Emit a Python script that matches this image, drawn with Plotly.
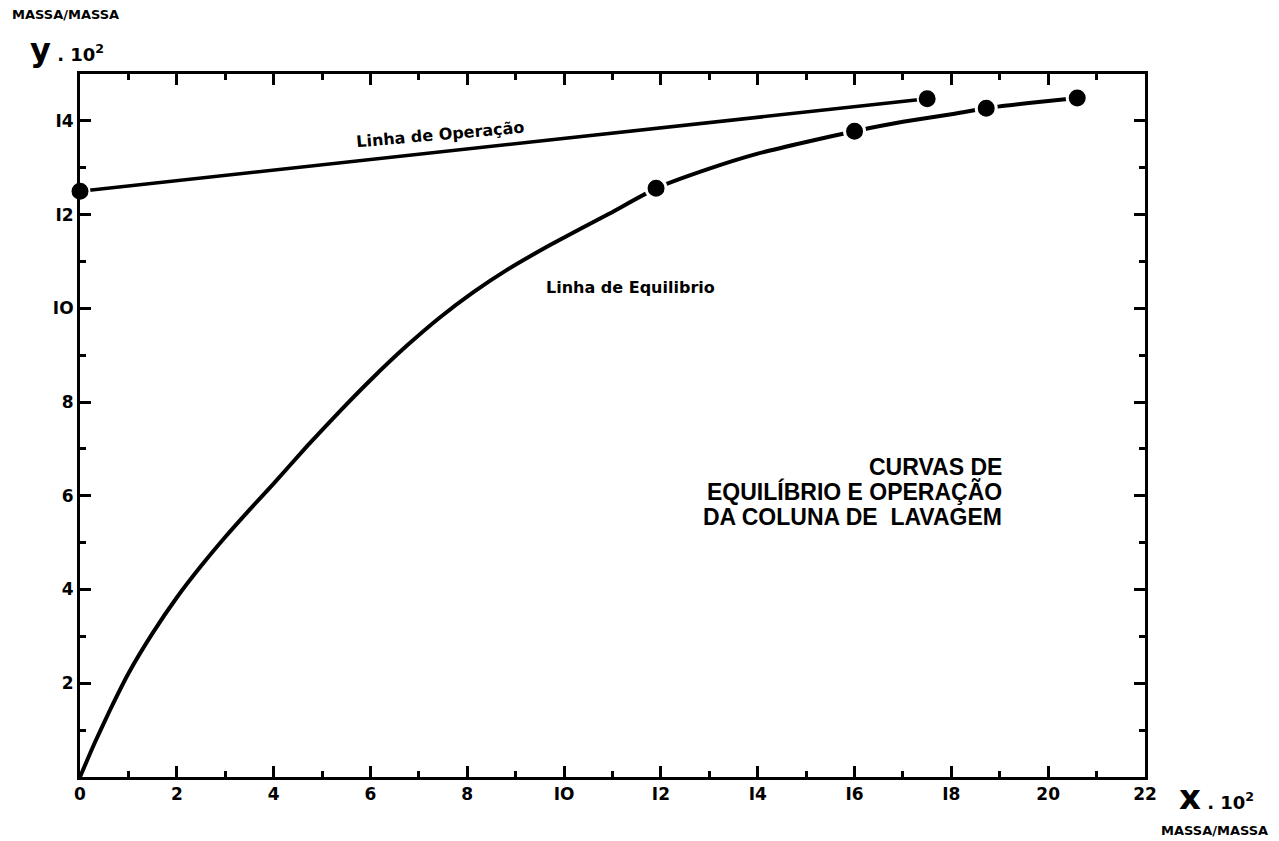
import plotly.graph_objects as go

# Equilibrium curve (x·10², y·10²)
eq_x = [0, 0.3, 0.62, 1.0, 1.5, 2.0, 2.5, 3.0, 3.5, 4.0, 4.7, 5.4, 6.05, 6.76, 7.44, 8.12,
        8.82, 9.71, 10.95, 11.9, 13.0, 14.0, 15.0, 16.0, 17.0, 18.0, 18.72, 19.6, 20.6]
eq_y = [0, 0.72, 1.43, 2.21, 3.07, 3.83, 4.5, 5.12, 5.7, 6.26, 7.07, 7.84, 8.52, 9.21, 9.81, 10.34,
        10.82, 11.35, 12.03, 12.56, 12.98, 13.3, 13.55, 13.78, 13.98, 14.14, 14.27, 14.38, 14.49]
# Marked points on the equilibrium curve
eq_pts_x = [11.9, 16.0, 18.72, 20.6]
eq_pts_y = [12.56, 13.78, 14.27, 14.49]
# Operating line
op_x = [0, 17.5]
op_y = [12.5, 14.47]

x_ticks = [0, 2, 4, 6, 8, 10, 12, 14, 16, 18, 20, 22]
x_ticktext = ["0", "2", "4", "6", "8", "IO", "I2", "I4", "I6", "I8", "20", "22"]
y_ticks = [2, 4, 6, 8, 10, 12, 14]
y_ticktext = ["2", "4", "6", "8", "IO", "I2", "I4"]

BLACK = "#000000"
FONT = "DejaVu Sans"

fig = go.Figure()
fig.add_trace(go.Scatter(x=eq_x, y=eq_y, mode="lines",
                         line=dict(color=BLACK, width=4, shape="spline", smoothing=0.5),
                         hoverinfo="skip", showlegend=False))
fig.add_trace(go.Scatter(x=op_x, y=op_y, mode="lines",
                         line=dict(color=BLACK, width=3.5),
                         hoverinfo="skip", showlegend=False))
fig.add_trace(go.Scatter(x=eq_pts_x, y=eq_pts_y, mode="markers",
                         marker=dict(color=BLACK, size=20, line=dict(color="white", width=3)),
                         cliponaxis=False, showlegend=False))
fig.add_trace(go.Scatter(x=op_x, y=op_y, mode="markers",
                         marker=dict(color=BLACK, size=19, line=dict(color="white", width=2)),
                         cliponaxis=False, showlegend=False))

axis_common = dict(
    showgrid=False, zeroline=False, showline=True, linecolor=BLACK, linewidth=3,
    mirror="ticks", ticks="inside", ticklen=11, tickwidth=2.5, tickcolor=BLACK,
    tickfont=dict(family=FONT, size=17, color=BLACK, weight="bold"),
)
fig.update_xaxes(range=[0, 22], tickvals=x_ticks, ticktext=x_ticktext,
                 minor=dict(ticks="inside", dtick=1, ticklen=6, tickwidth=2.5, tickcolor=BLACK),
                 **axis_common)
fig.update_yaxes(range=[0, 15], tickvals=y_ticks, ticktext=y_ticktext,
                 minor=dict(ticks="inside", dtick=1, ticklen=6, tickwidth=2.5, tickcolor=BLACK),
                 **axis_common)

fig.update_layout(
    width=1279, height=841,
    margin=dict(l=80, r=134, t=74, b=64),
    paper_bgcolor="white", plot_bgcolor="white",
    font=dict(family=FONT, color=BLACK),
)

def pix(px, py):
    # convert page pixels to paper coordinates
    return (px - 80) / (1145 - 80), (777 - py) / (777 - 74)

annotations = []
def add_text(text, px, py, size, xanchor="center", angle=0, family=FONT):
    x, y = pix(px, py)
    annotations.append(dict(text=text, x=x, y=y, xref="paper", yref="paper",
                            xanchor=xanchor, yanchor="middle", showarrow=False,
                            textangle=angle,
                            font=dict(family=family, size=size, color=BLACK)))

add_text("<b>MASSA/MASSA</b>", 10, 14, 13, xanchor="left")
add_text("<b><span style='font-size:32px'>y</span> . 10<sup>2</sup></b>", 28, 50, 18, xanchor="left")
add_text("<b><span style='font-size:34px'>x</span> . 10<sup>2</sup></b>", 1177, 797, 18, xanchor="left")
add_text("<b>MASSA/MASSA</b>", 1214, 830, 13)
add_text("<b>Linha de Operação</b>", 440, 135, 16, angle=-5)
add_text("<b>Linha de Equilibrio</b>", 630, 287, 16)
add_text("<b>CURVAS DE</b>", 1004, 467, 23, xanchor="right", family="Liberation Sans")
add_text("<b>EQUILÍBRIO E OPERAÇÃO</b>", 1004, 492, 23, xanchor="right", family="Liberation Sans")
add_text("<b>DA COLUNA DE  LAVAGEM</b>", 1004, 517, 23, xanchor="right", family="Liberation Sans")

fig.update_layout(annotations=annotations)
fig.write_html("out.html")
